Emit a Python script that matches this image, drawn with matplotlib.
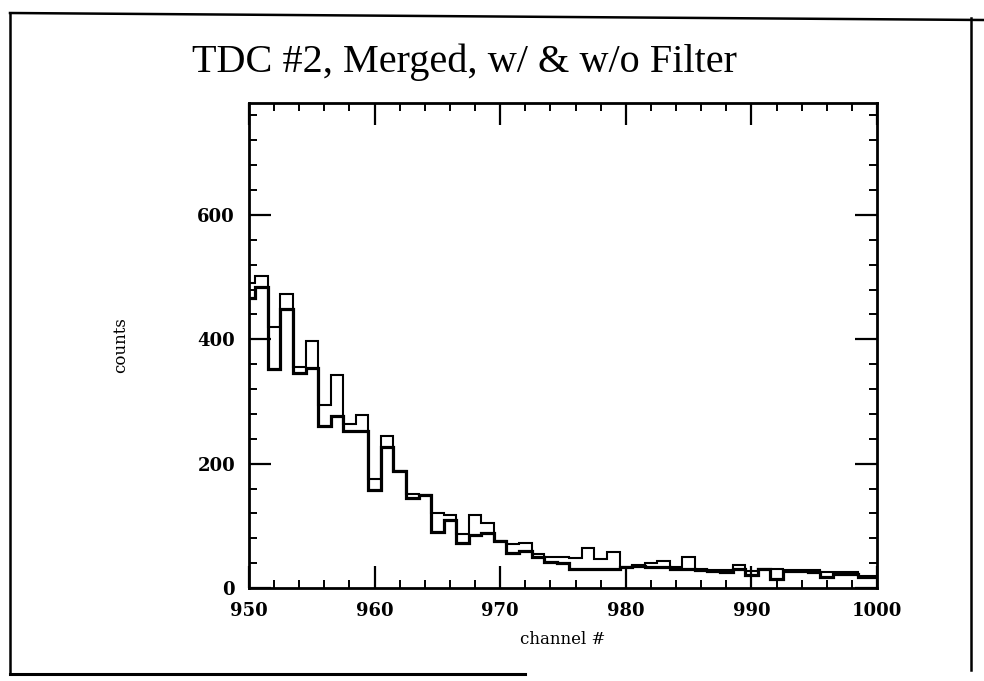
import numpy as np
import matplotlib
matplotlib.use("Agg")
import matplotlib.pyplot as plt
from matplotlib.lines import Line2D
from matplotlib.ticker import MultipleLocator

# channel numbers (bins centred on integer channels)
channels = np.arange(950, 1001)

# counts, two overlaid histograms
counts_thin = [491, 502, 420, 473, 356, 397, 294, 342, 264, 279,
               175, 244, 188, 151, 150, 121, 118, 87, 117, 105,
               76, 71, 73, 55, 50, 50, 48, 64, 46, 58,
               34, 37, 40, 44, 33, 50, 30, 29, 29, 37,
               27, 31, 31, 29, 29, 29, 26, 25, 25, 20,
               20]
counts_thick = [466, 484, 353, 448, 346, 354, 261, 276, 252, 252,
                158, 226, 188, 145, 150, 90, 109, 73, 86, 89,
                76, 56, 59, 50, 42, 40, 31, 31, 31, 31,
                33, 36, 33, 34, 31, 30, 29, 28, 25, 31,
                21, 30, 15, 28, 28, 26, 18, 22, 23, 18,
                17]

title = "TDC #2, Merged, w/ & w/o Filter"
xlabel = "channel #"
ylabel = "counts"

W, H = 984, 681
fig = plt.figure(figsize=(W / 100, H / 100), dpi=100)

# axes box in pixel coords of the original
left, right, top, bottom = 249, 877, 103, 588
ax = fig.add_axes([left / W, 1 - bottom / H, (right - left) / W, (bottom - top) / H])

edges = np.append(channels - 0.5, channels[-1] + 0.5)
ax.stairs(counts_thin, edges, baseline=None, color="black", linewidth=1.5)
ax.stairs(counts_thick, edges, baseline=None, color="black", linewidth=2.3)

ax.set_xlim(950, 1000)
ax.set_ylim(0, 780)

ax.xaxis.set_major_locator(MultipleLocator(10))
ax.xaxis.set_minor_locator(MultipleLocator(2))
ax.yaxis.set_major_locator(MultipleLocator(200))
ax.yaxis.set_minor_locator(MultipleLocator(40))

ax.tick_params(which="both", direction="in", top=True, right=True, color="black")
ax.tick_params(which="major", length=16, width=1.6, pad=10)
ax.tick_params(which="minor", length=6, width=1.4)
for lab in ax.get_xticklabels() + ax.get_yticklabels():
    lab.set_family("DejaVu Serif")
    lab.set_fontsize(13)
    lab.set_fontweight("bold")
for sp in ax.spines.values():
    sp.set_linewidth(2.0)

fig.text(464 / W, 1 - 62 / H, title, family="Liberation Serif", fontsize=29,
         ha="center", va="center")
fig.text(563 / W, 1 - 640 / H, xlabel, family="DejaVu Serif", fontsize=12,
         ha="center", va="center")
fig.text(121 / W, 1 - 345 / H, ylabel, family="DejaVu Serif", fontsize=12,
         ha="center", va="center", rotation=90)

# scanned page frame
def frame_line(x0, y0, x1, y1, lw=1.8):
    fig.add_artist(Line2D([x0 / W, x1 / W], [1 - y0 / H, 1 - y1 / H],
                          transform=fig.transFigure, color="black", linewidth=lw))

frame_line(10, 13, 984, 20)
frame_line(10, 13, 10, 674)
frame_line(971, 18, 971, 670)
frame_line(10, 674, 525, 674, lw=2.2)

fig.savefig("out.png", dpi=100)
